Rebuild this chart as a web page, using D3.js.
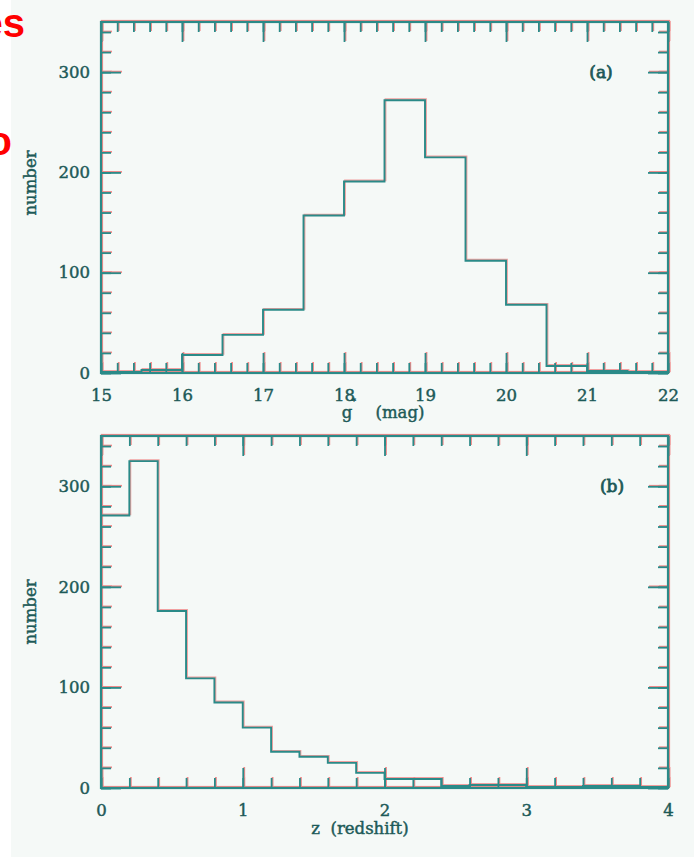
<!DOCTYPE html>
<html><head><meta charset="utf-8">
<script src="https://cdn.jsdelivr.net/npm/d3@7"></script>
<style>
html,body{margin:0;padding:0;background:#ffffff;}
svg{display:block;}
</style></head>
<body>
<script>
// ---- data ----
const gBinStart = [15,15.5,16,16.5,17,17.5,18,18.5,19,19.5,20,20.5,21,21.5];
const gBinWidth = 0.5;
const gCounts   = [1,3,18,38,63,157,191,272,215,112,68,7,2,1];

const zBinStart = [0,0.2,0.4,0.6,0.8,1.0,1.2,1.4,1.6,1.8,2.0,2.2,2.4,2.6,2.8,3.0,3.2,3.4,3.6,3.8];
const zBinWidth = 0.2;
const zCounts   = [271,325,176,109,85,60,36,31,25,15,9,9,2,3,3,1,1,2,2,1];

const gTicks = [15,16,17,18,19,20,21,22];
const zTicks = [0,1,2,3,4];
const yTicks = [0,100,200,300];

const W = 694, H = 857;
const svg = d3.select("body").append("svg").attr("width", W).attr("height", H);
svg.append("rect").attr("x",0).attr("y",0).attr("width",W).attr("height",H).attr("fill","#ffffff");
svg.append("rect").attr("x",11).attr("y",0).attr("width",W-11).attr("height",H).attr("fill","#f5f9f7");

const LINE = "#2a8a88", TEXT = "#1d5a58", SHADOW = "#f08a8a";
const FONT = "'DejaVu Serif', serif";
const styleText = s => s.attr("fill", TEXT).attr("font-family", FONT)
  .attr("stroke", TEXT).attr("stroke-width", 0.45);

function panel(opts){
  const x = d3.scaleLinear().domain(opts.xDomain).range([101,668]);
  const y = d3.scaleLinear().domain([0,350]).range(opts.yRange);
  const g = svg.append("g");
  const [x0,x1] = x.range(), [y0,y1] = y.range();

  const minorX = d3.range(opts.xDomain[0], opts.xDomain[1]+1e-9, 0.2).map(v=>+v.toFixed(2));
  const minorY = d3.range(0, 350.1, 20);
  const fmt = d3.format("d");

  function drawAxes(dx, dy, color, withLabels){
    const a = g.append("g").attr("transform",`translate(${dx},${dy})`);
    const mk = (axis, pos, size, vals, labels) => {
      const ax = axis.tickValues(vals).tickSize(size).tickSizeOuter(0).tickFormat(labels ? fmt : "");
      const sel = a.append("g").attr("transform", pos).call(ax);
      sel.select(".domain").remove();
      sel.selectAll("line").attr("stroke", color).attr("stroke-width", 1.8);
      sel.selectAll("text").call(styleText).attr("font-size", 16.5);
      return sel;
    };
    mk(d3.axisBottom(x).tickPadding(16), `translate(0,${y0})`, -10, minorX, false);
    mk(d3.axisBottom(x).tickPadding(16), `translate(0,${y0})`, -20, opts.xTicks, withLabels);
    mk(d3.axisTop(x), `translate(0,${y1})`, -10, minorX, false);
    mk(d3.axisTop(x), `translate(0,${y1})`, -20, opts.xTicks, false);
    mk(d3.axisLeft(y).tickPadding(11), `translate(${x0},0)`, -10, minorY, false);
    mk(d3.axisLeft(y).tickPadding(11), `translate(${x0},0)`, -20, yTicks, withLabels);
    mk(d3.axisRight(y), `translate(${x1},0)`, -10, minorY, false);
    mk(d3.axisRight(y), `translate(${x1},0)`, -20, yTicks, false);
    a.append("rect").attr("x",x0).attr("y",y1).attr("width",x1-x0).attr("height",y0-y1)
      .attr("fill","none").attr("stroke",color).attr("stroke-width",2.2);
  }

  const pts = opts.starts.map((s,i)=>[s, opts.counts[i]]);
  pts.push([opts.starts[opts.starts.length-1]+opts.width, opts.counts[opts.counts.length-1]]);
  const line = d3.line().x(d=>x(d[0])).y(d=>y(d[1])).curve(d3.curveStepAfter);

  // red fringe
  drawAxes(1,-1,SHADOW,false);
  g.append("path").attr("d", line(pts)).attr("transform","translate(1,-1)")
    .attr("fill","none").attr("stroke",SHADOW).attr("stroke-width",1.8).attr("opacity",0.8);
  // main
  drawAxes(0,0,LINE,true);
  g.append("path").attr("d", line(pts)).attr("fill","none").attr("stroke",LINE).attr("stroke-width",1.9);

  g.append("text").attr("x", opts.tagX).attr("y", y(opts.labelY)).attr("dy","0.35em")
    .attr("text-anchor","middle").call(styleText).attr("stroke-width",0.8)
    .attr("font-size",17).text(opts.tag);

  g.append("text").attr("transform",`translate(36,${opts.numberY}) rotate(-90)`)
    .attr("text-anchor","middle").call(styleText)
    .attr("font-size",16.5).text("number");
  return {x,y,g};
}

const a = panel({xDomain:[15,22], yRange:[373,22], xTicks:gTicks, starts:gBinStart, width:gBinWidth,
  counts:gCounts, tag:"(a)", tagX:601, labelY:300, numberY:183});
const b = panel({xDomain:[0,4], yRange:[788,436], xTicks:zTicks, starts:zBinStart, width:zBinWidth,
  counts:zCounts, tag:"(b)", tagX:612, labelY:300, numberY:612});

svg.append("text").attr("x",347).attr("y",418).attr("text-anchor","middle").call(styleText)
  .attr("font-size",16.5).text("g");
svg.append("text").attr("x",400).attr("y",418).attr("text-anchor","middle").call(styleText)
  .attr("font-size",16.5).text("(mag)");
svg.append("text").attr("x",354).attr("y",404).attr("text-anchor","middle").call(styleText)
  .attr("font-size",8).text("*");
svg.append("text").attr("x",360).attr("y",834).attr("text-anchor","middle").call(styleText)
  .attr("font-size",16.5).attr("xml:space","preserve").text("z  (redshift)");

// slide text fragments at left edge
svg.append("text").attr("x",25).attr("y",37).attr("text-anchor","end").attr("fill","#ff0000")
  .attr("font-family","'Liberation Sans', Arial, sans-serif").attr("font-weight","bold").attr("font-size",40).text("es");
svg.append("text").attr("x",12).attr("y",155).attr("text-anchor","end").attr("fill","#ff0000")
  .attr("font-family","'Liberation Sans', Arial, sans-serif").attr("font-weight","bold").attr("font-size",40).text("o");
</script>
</body></html>
